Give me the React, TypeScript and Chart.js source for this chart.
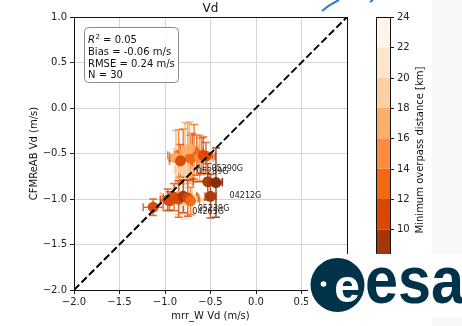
import React, { useEffect, useRef } from "react";
import { Chart, registerables } from "chart.js";
Chart.register(...registerables);

// ---- data ----
const mrrVd = [-0.85, -0.8, -0.75, -0.7, -0.65, -0.6, -0.88, -0.78, -0.72, -0.8, -0.55, -0.68, -0.73, -0.62, -0.83, -0.58,
  -0.78, -0.7, -0.85, -0.53, -0.44, -0.5, -0.9, -0.85, -0.8, -0.75, -0.72, -0.95, -0.97, -1.13];
const cfmVd = [-0.52, -0.53, -0.5, -0.53, -0.52, -0.53, -0.55, -0.48, -0.55, -0.68, -0.53, -0.48, -0.45, -0.55, -0.58, -0.52,
  -1.02, -1.0, -0.97, -0.81, -0.82, -0.97, -0.98, -1.0, -0.97, -0.99, -1.02, -1.02, -1.01, -1.09];
const mrrErr = [0.12, 0.15, 0.1, 0.14, 0.12, 0.1, 0.08, 0.12, 0.18, 0.1, 0.1, 0.1, 0.1, 0.15, 0.12, 0.1,
  0.2, 0.2, 0.2, 0.16, 0.07, 0.06, 0.12, 0.1, 0.15, 0.12, 0.1, 0.1, 0.08, 0.11];
const cfmErr = [0.28, 0.3, 0.33, 0.25, 0.22, 0.2, 0.3, 0.32, 0.25, 0.1, 0.15, 0.3, 0.3, 0.25, 0.18, 0.2,
  0.2, 0.18, 0.2, 0.2, 0.38, 0.24, 0.15, 0.2, 0.18, 0.2, 0.15, 0.1, 0.12, 0.09];
const minDist = [13, 12, 15, 11, 10, 12, 16, 17, 13, 19, 10, 12, 16, 14, 11, 11,
  18, 19, 17, 9, 7, 9, 10, 11, 9, 10, 12, 11, 10, 10];

const labelNames = ["05390G", "05289G", "04212G", "05239G", "04265G"];
const labelX = [-0.49, -0.65, -0.29, -0.64, -0.70];
const labelY = [-0.69, -0.725, -0.99, -1.13, -1.165];

const xTicks = [-2.0, -1.5, -1.0, -0.5, 0.0, 0.5, 1.0];
const yTicks = [-2.0, -1.5, -1.0, -0.5, 0.0, 0.5, 1.0];
const cbTicks = [10, 12, 14, 16, 18, 20, 22, 24];
const cbBounds = [6, 8, 10, 12, 14, 16, 18, 20, 22, 24];
const cbColors = ["#7f2704", "#a63603", "#d94801", "#f16913", "#fd8d3c", "#fdae6b", "#fdd0a2", "#fee6ce", "#fff5eb"];

const statLines = ["Bias = -0.06 m/s", "RMSE = 0.24 m/s", "N = 30"];
const r2Value = "0.05";

const FONT = "'DejaVu Sans', sans-serif";

function colorFor(d: number): string {
  for (let i = 0; i < cbColors.length; i++) {
    if (d >= cbBounds[i] && d < cbBounds[i + 1]) return cbColors[i];
  }
  return d < cbBounds[0] ? cbColors[0] : cbColors[cbColors.length - 1];
}

function hexA(hex: string, a: number) {
  const r = parseInt(hex.slice(1, 3), 16), g = parseInt(hex.slice(3, 5), 16), b = parseInt(hex.slice(5, 7), 16);
  return `rgba(${r},${g},${b},${a})`;
}

const fmt = (v: number) => (v < 0 ? "\u2212" : "") + Math.abs(v).toFixed(1);

const customPlugin = {
  id: "custom",
  beforeDraw(chart: any) {
    const ctx = chart.ctx;
    ctx.save();
    ctx.fillStyle = "#f8f8f8";
    ctx.fillRect(432, 0, 30, 326);
    ctx.restore();
  },
  beforeDatasetsDraw(chart: any) {
    const ctx = chart.ctx;
    const xs = chart.scales.x, ys = chart.scales.y;
    const ca = chart.chartArea;
    ctx.save();
    ctx.beginPath();
    ctx.rect(ca.left, ca.top, ca.right - ca.left, ca.bottom - ca.top);
    ctx.clip();
    ctx.lineWidth = 1.5;
    for (let i = 0; i < mrrVd.length; i++) {
      const c = hexA(colorFor(minDist[i]), 0.8);
      ctx.strokeStyle = c;
      const px = xs.getPixelForValue(mrrVd[i]);
      const py = ys.getPixelForValue(cfmVd[i]);
      const x0 = xs.getPixelForValue(mrrVd[i] - mrrErr[i]);
      const x1 = xs.getPixelForValue(mrrVd[i] + mrrErr[i]);
      const y0 = ys.getPixelForValue(cfmVd[i] - cfmErr[i]);
      const y1 = ys.getPixelForValue(cfmVd[i] + cfmErr[i]);
      const cap = 4;
      ctx.beginPath();
      ctx.moveTo(x0, py); ctx.lineTo(x1, py);
      ctx.moveTo(px, y0); ctx.lineTo(px, y1);
      ctx.moveTo(x0, py - cap); ctx.lineTo(x0, py + cap);
      ctx.moveTo(x1, py - cap); ctx.lineTo(x1, py + cap);
      ctx.moveTo(px - cap, y0); ctx.lineTo(px + cap, y0);
      ctx.moveTo(px - cap, y1); ctx.lineTo(px + cap, y1);
      ctx.stroke();
    }
    ctx.restore();
  },
  afterDatasetsDraw(chart: any) {
    const ctx = chart.ctx;
    const xs = chart.scales.x, ys = chart.scales.y;
    ctx.save();
    // point labels
    ctx.fillStyle = "#222";
    ctx.font = `8px ${FONT}`;
    ctx.textAlign = "left";
    ctx.textBaseline = "alphabetic";
    for (let i = 0; i < labelNames.length; i++) {
      ctx.fillText(labelNames[i], xs.getPixelForValue(labelX[i]), ys.getPixelForValue(labelY[i]));
    }
    // stats box
    ctx.beginPath();
    (ctx as any).roundRect(84.5, 27.5, 94, 55, 4);
    ctx.fillStyle = "rgba(255,255,255,0.85)";
    ctx.fill();
    ctx.strokeStyle = "#8a8a8a";
    ctx.lineWidth = 1;
    ctx.stroke();
    ctx.fillStyle = "#111";
    let x = 88;
    ctx.font = `italic 10px ${FONT}`;
    ctx.fillText("R", x, 43);
    x += ctx.measureText("R").width;
    ctx.font = `7px ${FONT}`;
    ctx.fillText("2", x + 0.5, 38.5);
    x += ctx.measureText("2").width + 0.5;
    ctx.font = `10px ${FONT}`;
    ctx.fillText(" = " + r2Value, x, 43);
    const bl = [55, 66.5, 78];
    statLines.forEach((s, i) => ctx.fillText(s, 88, bl[i]));
    ctx.restore();
  },
  afterDraw(chart: any) {
    const ctx = chart.ctx;
    const ca = chart.chartArea;
    const cb = chart.scales.y2;
    ctx.save();
    // frame
    ctx.strokeStyle = "#111";
    ctx.lineWidth = 1;
    ctx.strokeRect(Math.round(ca.left) + 0.5, Math.round(ca.top) + 0.5, Math.round(ca.right - ca.left), Math.round(ca.bottom - ca.top));
    // colorbar
    const cbL = 376, cbR = 390;
    for (let i = 0; i < cbColors.length; i++) {
      const yTop = cb.getPixelForValue(cbBounds[i + 1]);
      const yBot = cb.getPixelForValue(cbBounds[i]);
      ctx.fillStyle = cbColors[i];
      ctx.fillRect(cbL, yTop, cbR - cbL, yBot - yTop);
    }
    ctx.strokeStyle = "#111";
    ctx.strokeRect(cbL + 0.5, Math.round(cb.getPixelForValue(24)) + 0.5, cbR - cbL, Math.round(cb.getPixelForValue(6) - cb.getPixelForValue(24)));
    ctx.beginPath();
    ctx.fillStyle = "#222";
    ctx.font = `10px ${FONT}`;
    ctx.textAlign = "left";
    ctx.textBaseline = "middle";
    cbTicks.forEach((t) => {
      const y = Math.round(cb.getPixelForValue(t)) + 0.5;
      ctx.moveTo(cbR, y); ctx.lineTo(cbR + 4, y);
      ctx.fillText(String(t), cbR + 7, y);
    });
    ctx.stroke();
    // titles
    ctx.fillStyle = "#111";
    ctx.font = `12px ${FONT}`;
    ctx.textAlign = "center";
    ctx.textBaseline = "alphabetic";
    ctx.fillText("Vd", (ca.left + ca.right) / 2, 12);
    ctx.font = `10px ${FONT}`;
    ctx.fillText("mrr_W Vd (m/s)", (ca.left + ca.right) / 2, 319);
    ctx.save();
    ctx.translate(36.5, (ca.top + ca.bottom) / 2);
    ctx.rotate(-Math.PI / 2);
    ctx.fillText("CFMReAB Vd (m/s)", 0, 0);
    ctx.restore();
    ctx.save();
    ctx.translate(422.5, 150);
    ctx.rotate(-Math.PI / 2);
    ctx.fillText("Minimum overpass distance [km]", 0, 0);
    ctx.restore();
    // overlay logo box
    ctx.fillStyle = "#ffffff";
    ctx.fillRect(308, 254, 154, 63);
    // blue swoosh
    ctx.strokeStyle = "#2a7fd0";
    ctx.lineWidth = 2;
    ctx.beginPath();
    ctx.moveTo(322, 11);
    ctx.quadraticCurveTo(330, 4, 339, 0);
    ctx.stroke();
    ctx.beginPath();
    ctx.moveTo(370, 2);
    ctx.lineTo(373, 0);
    ctx.stroke();
    // esa logo
    const navy = "#003249";
    ctx.fillStyle = navy;
    ctx.beginPath();
    ctx.arc(337.5, 285, 27, 0, Math.PI * 2);
    ctx.fill();
    ctx.fillStyle = "#ffffff";
    ctx.beginPath();
    ctx.arc(323.5, 284, 2.8, 0, Math.PI * 2);
    ctx.fill();
    ctx.font = "bold 46px 'Liberation Sans', sans-serif";
    ctx.textAlign = "center";
    ctx.fillText("e", 347, 302);
    ctx.fillStyle = navy;
    ctx.textAlign = "left";
    ctx.save();
    ctx.translate(365, 303);
    ctx.scale(0.9, 1);
    ctx.font = "bold 66px 'Liberation Sans', sans-serif";
    ctx.fillText("esa", 0, 0);
    ctx.restore();
    ctx.restore();
  },
};

export default function App() {
  const ref = useRef<HTMLCanvasElement | null>(null);
  useEffect(() => {
    if (!ref.current) return;
    const pts = mrrVd.map((x, i) => ({ x, y: cfmVd[i] }));
    const cols = minDist.map((d) => hexA(colorFor(d), 0.95));
    const gridCommon = {
      color: "#d6d6d6",
      lineWidth: 1,
      drawTicks: true,
      tickLength: 4,
      tickColor: "#222",
      tickWidth: 1,
    };
    const chart = new Chart(ref.current, {
      type: "scatter",
      data: {
        datasets: [
          {
            type: "line",
            data: [{ x: -2, y: -2 }, { x: 1, y: 1 }],
            borderColor: "#000",
            borderWidth: 2,
            borderDash: [7.4, 3.2],
            pointRadius: 0,
            fill: false,
            order: 0,
          } as any,
          {
            type: "scatter",
            data: pts,
            pointRadius: 5.5,
            pointBackgroundColor: cols,
            pointBorderColor: cols,
            pointBorderWidth: 0,
            order: 1,
          } as any,
        ],
      },
      options: {
        animation: false,
        responsive: false,
        maintainAspectRatio: false,
        layout: { padding: { top: 17, left: 0, right: 0, bottom: 0 } },
        plugins: { legend: { display: false }, tooltip: { enabled: false }, title: { display: false } },
        scales: {
          x: {
            type: "linear",
            min: -2,
            max: 1,
            afterBuildTicks: (s: any) => { s.ticks = xTicks.map((v) => ({ value: v })); },
            afterFit: (s: any) => { s.height = 36; },
            ticks: { callback: (v: any) => fmt(Number(v)), color: "#222", font: { family: FONT, size: 10 }, padding: 2, maxRotation: 0 },
            grid: gridCommon,
            border: { display: true, color: "#111", width: 1 },
          },
          y: {
            type: "linear",
            position: "left",
            min: -2,
            max: 1,
            afterBuildTicks: (s: any) => { s.ticks = yTicks.map((v) => ({ value: v })); },
            afterFit: (s: any) => { s.width = 74; },
            ticks: { callback: (v: any) => fmt(Number(v)), color: "#222", font: { family: FONT, size: 10 }, padding: 3 },
            grid: gridCommon,
            border: { display: true, color: "#111", width: 1 },
          },
          y2: {
            type: "linear",
            position: "right",
            min: 6,
            max: 24,
            afterBuildTicks: (s: any) => { s.ticks = cbTicks.map((v) => ({ value: v })); },
            afterFit: (s: any) => { s.width = 115; },
            ticks: { callback: (v: any) => String(v), color: "rgba(0,0,0,0)", font: { family: FONT, size: 10 }, padding: 2 },
            grid: { display: false, drawTicks: false },
            border: { display: false },
          },
        },
      } as any,
      plugins: [customPlugin],
    });
    return () => chart.destroy();
  }, []);
  return (
    <div style={{ position: "fixed", left: 0, top: 0, width: 462, height: 326, background: "#fff" }}>
      <canvas ref={ref} width={462} height={326} style={{ width: 462, height: 326, display: "block" }} />
    </div>
  );
}
